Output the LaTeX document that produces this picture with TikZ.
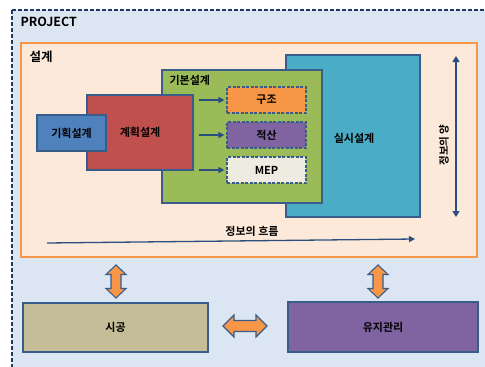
\documentclass[tikz,border=0pt]{standalone}
\usepackage{fontspec}
\setmainfont{Noto Sans CJK KR}[BoldFont={* Bold}]
\usetikzlibrary{arrows.meta}
\definecolor{projfill}{HTML}{DCE6F2}
\definecolor{projline}{HTML}{1F3864}
\definecolor{dsfill}{HTML}{FDE9D9}
\definecolor{dsline}{HTML}{F79646}
\definecolor{boxline}{HTML}{385D8A}
\definecolor{cblue}{HTML}{4F81BD}
\definecolor{cred}{HTML}{C0504D}
\definecolor{cgreen}{HTML}{9BBB59}
\definecolor{cteal}{HTML}{4BACC6}
\definecolor{corange}{HTML}{F79646}
\definecolor{cpurple}{HTML}{8064A2}
\definecolor{ccream}{HTML}{EEECE1}
\definecolor{ctan}{HTML}{C4BD97}
\definecolor{arrcol}{HTML}{2A4F7E}
\tikzset{
  lbl/.style={font=\bfseries\fontsize{11}{13}\selectfont},
  box/.style={draw=boxline, line width=1.3pt, inner sep=0pt, lbl},
  dbox/.style={box, dashed, dash pattern=on 3pt off 1.5pt, line width=1.2pt},
  arr/.style={draw=arrcol, line width=1.3pt, -{Triangle[length=6pt,width=6pt]}},
  fat/.style={fill=corange, draw=boxline, line width=1.1pt, line join=miter},
  pics/fatv/.style={code={
    \draw[fat] (0,-16.5) -- (10,-7) -- (5,-7) -- (5,7) -- (10,7) -- (0,16.5)
      -- (-10,7) -- (-5,7) -- (-5,-7) -- (-10,-7) -- cycle;
  }},
}
\begin{document}
\begin{tikzpicture}[x=1pt,y=-1pt]
\useasboundingbox (0,0) rectangle (485,367);
\fill[white] (0,0) rectangle (485,367);
\filldraw[fill=projfill, draw=projline, line width=1.3pt, dash pattern=on 4pt off 2pt] (12,10) rectangle (500,400);
\node[anchor=west, font=\bfseries\fontsize{12.5}{14}\selectfont] (proj) at (17,22) {PROJECT};

% design area
\node[draw=dsline, fill=dsfill, line width=1.5pt, minimum width=456, minimum height=214, inner sep=0pt] (design) at (249,150) {};
\node[anchor=west, font=\bfseries\fontsize{12.5}{14}\selectfont] (designlbl) at (26,57) {설계};

\node[box, fill=cteal, minimum width=134, minimum height=162] (silsi) at (353,136) {};
\node[lbl] (silsilbl) at (354,138) {실시설계};
\node[box, fill=cgreen, minimum width=160, minimum height=133] (gibon) at (242,136.5) {};
\node[anchor=west, lbl] (gibonlbl) at (166,80) {기본설계};
\node[box, fill=cred, minimum width=106, minimum height=75] (gyehoek) at (140,132.5) {계획설계};
\node[box, fill=cblue, minimum width=69, minimum height=36] (gihoek) at (71.5,133) {기획설계};

\node[dbox, fill=corange, minimum width=79, minimum height=26] (gujo) at (266.5,100) {구조};
\node[dbox, fill=cpurple, minimum width=79, minimum height=26] (jeoksan) at (266.5,135) {적산};
\node[dbox, fill=ccream, minimum width=79, minimum height=26] (mep) at (266.5,170) {MEP};
\foreach \n in {gujo,jeoksan,mep}{
  \draw[arr] ([xshift=-27pt]\n.west) -- ([xshift=-2pt]\n.west);
}

% info amount
\coordinate (vtop) at (456,56);
\coordinate (vbot) at (456,217);
\draw[draw=arrcol, line width=1.3pt, {Triangle[length=6pt,width=7pt]}-{Triangle[length=6pt,width=7pt]}] (vtop) -- (vbot);
\node[rotate=90, font=\bfseries\fontsize{10.5}{12}\selectfont] (amount) at (444,145) {정보의 양};

% info flow
\coordinate (fstart) at (47,243);
\coordinate (fend) at (415,239);
\draw[arr] (fstart) -- (fend);
\node[lbl] (flow) at (252,231) {정보의 흐름};

% bottom boxes
\node[box, fill=ctan, minimum width=185, minimum height=49] (sigong) at (115.5,327.5) {시공};
\node[box, fill=cpurple, minimum width=190, minimum height=50] (yuji) at (383,327) {유지관리};

\pic at (116,281.5) {fatv};
\pic at (378,281.5) {fatv};
\draw[fat] (223,326) -- (234,315) -- (234,320.5) -- (256,320.5) -- (256,315) -- (267,326)
  -- (256,337) -- (256,331.5) -- (234,331.5) -- (234,337) -- cycle;
\end{tikzpicture}
\end{document}
